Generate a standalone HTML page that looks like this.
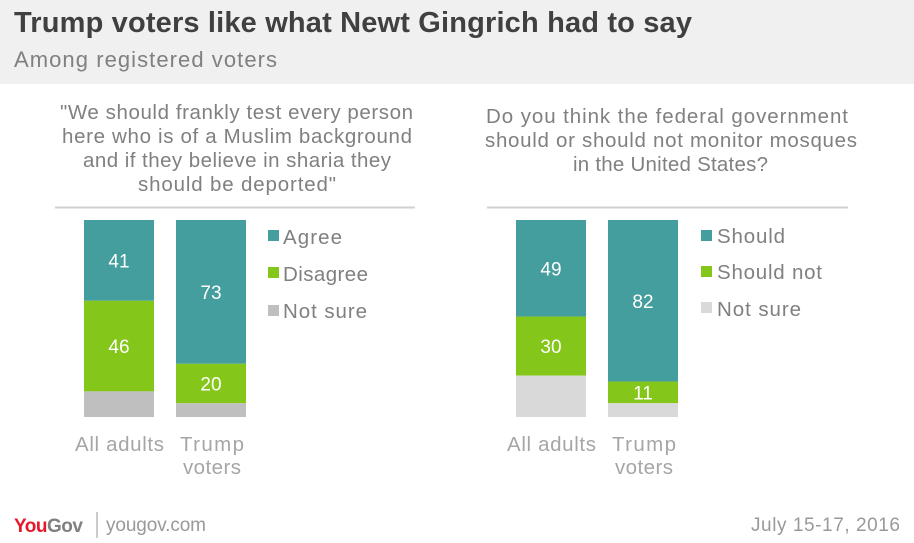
<!DOCTYPE html>
<html><head><meta charset="utf-8"><style>
body{margin:0;width:914px;height:543px;background:#fff;font-family:"Liberation Sans",sans-serif;position:relative;overflow:hidden}
.abs{position:absolute;white-space:nowrap}
</style></head><body>
<div class="abs" style="left:0;top:0;width:914px;height:84px;background:#f0f0f0"></div>
<svg width="914" height="543" style="position:absolute;left:0;top:0" font-family="Liberation Sans, sans-serif">
<text x="14" y="32" font-size="29" font-weight="bold" fill="#404040" textLength="678" lengthAdjust="spacing">Trump voters like what Newt Gingrich had to say</text>
<text x="14" y="67" font-size="22" fill="#808080" textLength="263" lengthAdjust="spacing">Among registered voters</text>
<g fill="#808080" font-size="20.5">
<text x="60" y="119" textLength="353">"We should frankly test every person</text>
<text x="62" y="143" textLength="350">here who is of a Muslim background</text>
<text x="83" y="167" textLength="308">and if they believe in sharia they</text>
<text x="138" y="191" textLength="198">should be deported"</text>
</g>
<line x1="55" x2="415" y1="207.5" y2="207.5" stroke="#d0d0d0" stroke-width="2"/>
<g fill="#808080" font-size="20.5">
<text x="486" y="123" textLength="362">Do you think the federal government</text>
<text x="485" y="147" textLength="372">should or should not monitor mosques</text>
<text x="573" y="171" textLength="195">in the United States?</text>
</g>
<line x1="487" x2="848" y1="207.5" y2="207.5" stroke="#d0d0d0" stroke-width="2"/>
<g id="bars"></g>
<g fill="#a6a6a6" font-size="20.5">
<text x="75" y="451" textLength="89">All adults</text>
<text x="180" y="451" textLength="64">Trump</text>
<text x="183" y="474" textLength="58">voters</text>
<text x="507" y="451" textLength="89">All adults</text>
<text x="612" y="451" textLength="64">Trump</text>
<text x="615" y="474" textLength="58">voters</text>
</g>
<g font-size="20.5" fill="#808080">
<rect x="268" y="230" width="11" height="11" fill="#459e9e"/><text x="283" y="244" textLength="59">Agree</text>
<rect x="268" y="267" width="11" height="11" fill="#84c71a"/><text x="283" y="281" textLength="85">Disagree</text>
<rect x="268" y="305" width="11" height="11" fill="#bfbfbf"/><text x="283" y="318" textLength="84">Not sure</text>
<rect x="701" y="230" width="11" height="11" fill="#459e9e"/><text x="717" y="243" textLength="68">Should</text>
<rect x="701" y="266" width="11" height="11" fill="#84c71a"/><text x="717" y="279" textLength="105">Should not</text>
<rect x="701" y="302" width="11" height="11" fill="#d9d9d9"/><text x="717" y="316" textLength="84">Not sure</text>
</g>
<g>
<text x="14" y="532" font-size="19" font-weight="bold" fill="#e3192a" letter-spacing="-0.5">You<tspan fill="#808080">Gov</tspan></text>
<line x1="97" x2="97" y1="512" y2="538" stroke="#999"/>
<text x="106" y="531" font-size="19" fill="#999" textLength="100">yougov.com</text>
</g>
<text x="751" y="531" font-size="19" fill="#999" textLength="149">July 15-17, 2016</text>
</svg>
<script>
const leftGroups = ["All adults","Trump voters"];
const leftAgree = [41,73];
const leftDisagree = [46,20];
const leftNotSure = [13,7];
const rightGroups = ["All adults","Trump voters"];
const rightShould = [49,82];
const rightShouldNot = [30,11];
const rightNotSure = [21,7];
const TOP=220,BOT=417,H=BOT-TOP;
const y=v=>v/100*H;
const g=document.getElementById('bars');
const NS="http://www.w3.org/2000/svg";
function drawPanel(xs,series,colors,names,prefix){
  xs.forEach((x,i)=>{
    let cur=TOP;
    series.forEach((s,k)=>{
      const h=y(s[i]);
      const r=document.createElementNS(NS,'rect');
      r.setAttribute('x',x);r.setAttribute('y',cur);r.setAttribute('width',70);r.setAttribute('height',h);r.setAttribute('fill',colors[k]);
      
      
      g.appendChild(r);
      if(k<2 && s[i]>=10){
        const t=document.createElementNS(NS,'text');
        t.setAttribute('x',x+35);t.setAttribute('y',cur+h/2+7);t.setAttribute('text-anchor','middle');
        t.setAttribute('fill','#fff');t.setAttribute('font-size','19');t.textContent=s[i];
        
        
        g.appendChild(t);
      }
      cur+=h;
    });
  });
}
drawPanel([84,176],[leftAgree,leftDisagree,leftNotSure],["#459e9e","#84c71a","#bfbfbf"],["agree","disagree","notsure"],"left");
drawPanel([516,608],[rightShould,rightShouldNot,rightNotSure],["#459e9e","#84c71a","#d9d9d9"],["should","shouldnot","notsure"],"right");
</script>
</body></html>
